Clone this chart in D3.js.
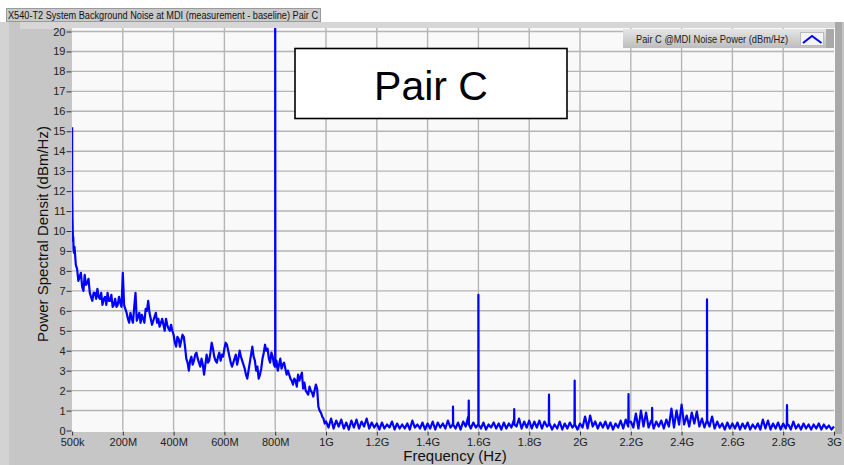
<!DOCTYPE html>
<html>
<head>
<meta charset="utf-8">
<title>Pair C noise</title>
<script src="https://cdn.jsdelivr.net/npm/d3@7/dist/d3.min.js"></script>
<style>
	body { margin: 0; background: #fff; }
	svg { display: block; font-family: "Liberation Sans", Arial, sans-serif; }
</style>
</head>
<body>
<svg id="chart" width="844" height="465"></svg>
<script>

	var chartTitle = "X540-T2 System Background Noise at MDI (measurement - baseline) Pair C";
	var legendLabel = "Pair C @MDI Noise Power (dBm/Hz)";
	var boxLabel = "Pair C";

	// x ticks (MHz) and their labels
	var xTickMHz = [0.5, 200, 400, 600, 800, 1000, 1200, 1400, 1600, 1800, 2000, 2200, 2400, 2600, 2800, 3000];
	var xTickText = ["500k", "200M", "400M", "600M", "800M", "1G", "1.2G", "1.4G", "1.6G", "1.8G", "2G", "2.2G", "2.4G", "2.6G", "2.8G", "3G"];
	var yTicks = [0, 1, 2, 3, 4, 5, 6, 7, 8, 9, 10, 11, 12, 13, 14, 15, 16, 17, 18, 19, 20];

	// first few MHz, the steep drop at the left edge
	var headMHz = [0.5, 0.6, 1.2, 2, 3, 4, 5, 6, 8];
	var headDb = [15.2, 12.0, 11.6, 10.6, 10.0, 9.5, 9.7, 9.1, 8.9];

	// trace read every 10 MHz, from 10M to 3G
	var noiseDb = [
		9.2, 8.1, 7.7, 7.2, 7.8, 7.4, 6.9, 6.5, 6.9,
		7.1, 6.6, 6.3, 6.7, 6.9, 6.5, 6.2, 6.6, 6.3, 6.4,
		7.9, 6.1, 5.6, 5.9, 5.4, 6.9, 5.7, 5.4, 5.6, 6.1,
		6.5, 5.6, 5.5, 5.9, 5.6, 5.4, 5.3, 5.6, 5.1, 5.3,
		4.8, 4.2, 4.6, 4.5, 4.7, 3.6, 3.0, 3.7, 3.5, 3.9,
		3.4, 3.6, 2.8, 3.8, 3.5, 4.4, 3.7, 3.4, 3.9, 3.8,
		4.1, 4.3, 3.7, 3.2, 3.6, 3.3, 4.0, 3.5, 3.1, 2.6,
		3.4, 4.2, 3.5, 3.2, 2.8, 3.6, 4.3, 4.1, 3.4, 3.7,
		3.2, 3.0, 3.6, 3.3, 3.1, 3.0, 2.6, 2.3, 2.5, 2.8,
		2.7, 2.1, 2.0, 1.8, 2.0, 1.7, 2.3, 1.2, 0.9, 0.6,
		0.45, 0.15, 0.6, 0.1, 0.5, 0.2, 0.55, 0.1, 0.4, 0.05,
		0.5, 0.15, 0.55, 0.1, 0.45, 0.2, 0.6, 0.1, 0.4, 0.15,
		0.35, 0.05, 0.4, 0.1, 0.3, 0.15, 0.45, 0.05, 0.35, 0.1,
		0.3, 0.1, 0.35, 0.05, 0.5, 0.15, 0.3, 0.1, 0.4, 0.05,
		0.35, 0.1, 0.45, 0.05, 0.4, 0.15, 0.35, 0.1, 0.5, 0.15,
		0.45, 0.1, 0.4, 0.05, 0.45, 0.2, 0.7, 0.1, 0.4, 0.15,
		0.35, 0.1, 0.4, 0.05, 0.3, 0.15, 0.4, 0.1, 0.35, 0.05,
		0.4, 0.1, 0.35, 0.15, 0.55, 0.2, 0.6, 0.1, 0.45, 0.15,
		0.5, 0.1, 0.45, 0.15, 0.5, 0.1, 0.45, 0.2, 0.35, 0.05,
		0.3, 0.1, 0.45, 0.05, 0.35, 0.1, 0.4, 0.15, 0.3, 0.05,
		0.35, 0.15, 0.7, 0.1, 0.75, 0.2, 0.45, 0.1, 0.4, 0.15,
		0.45, 0.1, 0.4, 0.05, 0.35, 0.15, 0.5, 0.1, 0.55, 0.2,
		0.45, 0.15, 0.85, 0.1, 1.0, 0.2, 0.9, 0.15, 0.5, 0.1,
		0.45, 0.2, 0.5, 0.1, 0.55, 0.2, 1.1, 0.15, 1.0, 0.3,
		1.3, 0.3, 0.75, 0.2, 0.9, 0.35, 0.95, 0.2, 0.6, 0.15,
		0.55, 0.2, 0.7, 0.1, 0.45, 0.15, 0.35, 0.05, 0.4, 0.1,
		0.35, 0.1, 0.4, 0.05, 0.35, 0.1, 0.4, 0.05, 0.3, 0.1,
		0.35, 0.05, 0.55, 0.1, 0.5, 0.05, 0.35, 0.1, 0.4, 0.05,
		0.35, 0.1, 0.3, 0.05, 0.45, 0.1, 0.3, 0.05, 0.35, 0.1,
		0.3, 0.05, 0.3, 0.1, 0.35, 0.05, 0.3, 0.1, 0.25, 0.05,
		0.2
	];

	// in-between samples (15M, 25M ... 995M) where the trace is a wide noisy band
	var midDb = [
		8.3, 7.5, 7.9, 7.0, 7.3, 7.6, 6.7, 6.9, 6.6,
		6.7, 6.9, 6.6, 6.3, 6.5, 6.8, 6.3, 6.2, 6.7, 6.2,
		6.3, 5.9, 5.4, 5.6, 6.2, 5.5, 5.9, 5.8, 5.4, 6.0,
		5.9, 5.3, 5.7, 5.4, 5.2, 5.6, 5.0, 5.3, 5.0, 5.0,
		4.4, 4.7, 4.2, 4.8, 4.2, 3.4, 3.5, 3.3, 3.8, 3.6,
		3.2, 3.3, 3.3, 3.4, 3.9, 4.1, 3.5, 3.7, 3.5, 3.7,
		4.4, 4.0, 3.4, 3.4, 3.8, 3.6, 3.7, 3.3, 2.8, 3.0,
		3.8, 3.7, 3.0, 2.6, 3.1, 3.9, 4.0, 3.6, 3.9, 3.3,
		3.5, 3.3, 3.1, 3.4, 2.8, 2.8, 2.5, 2.6, 2.2, 2.5,
		2.9, 2.4, 1.9, 2.2, 1.9, 2.0, 2.1, 1.0, 0.7, 0.35
	];

	// narrow spurs: frequency, peak, level either side
	var spikeMHz = [800, 1500, 1562, 1600, 1741, 1878, 1979, 2191, 2284, 2500, 2815];
	var spikeTop = [22, 1.2, 1.5, 6.8, 1.07, 1.8, 2.5, 1.83, 1.13, 6.57, 1.27];
	var spikeBase = [3.2, 0.3, 0.3, 0.3, 0.3, 0.3, 0.3, 0.4, 0.4, 0.5, 0.3];

	function buildSeries() {
		var pts = [];
		headMHz.forEach(function(f, i) { pts.push([f, headDb[i]]); });
		noiseDb.forEach(function(v, i) { pts.push([(i + 1) * 10, v]); });
		midDb.forEach(function(v, i) { pts.push([15 + i * 10, v]); });
		spikeMHz.forEach(function(f, i) {
			pts.push([f - 0.8, spikeBase[i]]);
			pts.push([f, spikeTop[i]]);
			pts.push([f + 0.8, spikeBase[i]]);
		});
		pts.sort(function(a, b) { return a[0] - b[0]; });
		return pts;
	}

	function draw() {
		var svg = d3.select("#chart");
		var left = 72, right = 834, top = 31.5, bottom = 430.5;

		var x = d3.scaleLinear().domain([0, 3000]).range([left, right]);
		var y = d3.scaleLinear().domain([0, 20]).range([bottom, top]);

		// title strip
		svg.append("rect").attr("x", 6.5).attr("y", 8.5).attr("width", 314).attr("height", 13)
			.attr("fill", "#c9c9c9").attr("stroke", "#9a9a9a");
		svg.append("text").attr("x", 8).attr("y", 18.5)
			.attr("font-size", 10).attr("fill", "#111")
			.attr("textLength", 310).attr("lengthAdjust", "spacingAndGlyphs")
			.text(chartTitle);

		// panel
		svg.append("rect").attr("x", 0).attr("y", 22).attr("width", 844).attr("height", 443).attr("fill", "#c6c6c6");
		svg.append("rect").attr("x", 0).attr("y", 22).attr("width", 9).attr("height", 443).attr("fill", "#d3d3d3");
		svg.append("rect").attr("x", 20).attr("y", 22).attr("width", 822).attr("height", 7).attr("fill", "#d6d6d6");
		svg.append("rect").attr("x", 835).attr("y", 22).attr("width", 7).attr("height", 412).attr("fill", "#a9a9a9");

		// plot area
		svg.append("rect").attr("x", left).attr("y", 28).attr("width", right - left + 1).attr("height", bottom - 28 + 1.5)
			.attr("fill", "#f9f9f9");

		var g = svg.append("g");

		// grid
		g.selectAll(".hgrid").data(yTicks.slice(1)).enter().append("line")
			.attr("x1", left).attr("x2", right)
			.attr("y1", function(d) { return y(d); }).attr("y2", function(d) { return y(d); })
			.attr("stroke", "#b5b5b5").attr("stroke-width", 1.4);
		g.selectAll(".vgrid").data(xTickMHz.slice(1, -1)).enter().append("line")
			.attr("x1", function(d) { return x(d); }).attr("x2", function(d) { return x(d); })
			.attr("y1", 28).attr("y2", bottom)
			.attr("stroke", "#b5b5b5").attr("stroke-width", 1.4);

		// y axis
		var yAxis = d3.axisLeft(y).tickValues(yTicks).tickSize(5).tickPadding(1);
		var ya = svg.append("g").attr("transform", "translate(" + (left - 0.5) + ",0)").call(yAxis);
		ya.select(".domain").remove();
		ya.selectAll("line").attr("stroke", "#333");
		ya.selectAll("text").attr("font-size", 11).attr("fill", "#222").attr("font-family", "Liberation Sans, Arial, sans-serif");

		// x axis
		var xAxis = d3.axisBottom(x).tickValues(xTickMHz)
			.tickFormat(function(d, i) { return xTickText[i]; })
			.tickSize(4).tickPadding(3);
		var xa = svg.append("g").attr("transform", "translate(0," + (bottom + 1) + ")").call(xAxis);
		xa.select(".domain").remove();
		xa.selectAll("line").attr("stroke", "#333");
		xa.selectAll("text").attr("font-size", 11).attr("fill", "#222").attr("font-family", "Liberation Sans, Arial, sans-serif");

		// trace
		svg.append("clipPath").attr("id", "clip").append("rect")
			.attr("x", left).attr("y", 28).attr("width", right - left + 1).attr("height", bottom - 28 + 1);
		var line = d3.line()
			.x(function(d) { return x(d[0]); })
			.y(function(d) { return y(d[1]); });
		svg.append("path")
			.datum(buildSeries())
			.attr("clip-path", "url(#clip)")
			.attr("fill", "none")
			.attr("stroke", "#0000ff")
			.attr("stroke-width", 2.2)
			.attr("stroke-linejoin", "round")
			.attr("d", line);

		// axis titles
		svg.append("text")
			.attr("transform", "translate(48,234) rotate(-90)")
			.attr("text-anchor", "middle")
			.attr("font-size", 15).attr("fill", "#111")
			.text("Power Spectral Densit (dBm/Hz)");
		svg.append("text")
			.attr("x", 455).attr("y", 461)
			.attr("text-anchor", "middle")
			.attr("font-size", 15).attr("fill", "#111")
			.text("Frequency (Hz)");

		// legend
		var grad = svg.append("defs").append("linearGradient").attr("id", "lg")
			.attr("x1", 0).attr("y1", 0).attr("x2", 0).attr("y2", 1);
		grad.append("stop").attr("offset", "0%").attr("stop-color", "#e6e6e6");
		grad.append("stop").attr("offset", "100%").attr("stop-color", "#bdbdbd");
		svg.append("rect").attr("x", 623).attr("y", 29).attr("width", 211).attr("height", 19)
			.attr("fill", "url(#lg)");
		svg.append("rect").attr("x", 826).attr("y", 29).attr("width", 8).attr("height", 19).attr("fill", "#a9a9a9");
		svg.append("text").attr("x", 636).attr("y", 42.5)
			.attr("font-size", 10.5).attr("fill", "#222")
			.attr("textLength", 152).attr("lengthAdjust", "spacingAndGlyphs")
			.text(legendLabel);
		svg.append("rect").attr("x", 800.5).attr("y", 32.5).attr("width", 23).attr("height", 13)
			.attr("fill", "#f4f4f4").attr("stroke", "#bbb");
		svg.append("polyline").attr("points", "803,43 812,36 821.5,43")
			.attr("fill", "none").attr("stroke", "#0000ff").attr("stroke-width", 2);

		// annotation box
		svg.append("rect").attr("x", 295).attr("y", 48.5).attr("width", 272).attr("height", 70)
			.attr("fill", "#fff").attr("stroke", "#000").attr("stroke-width", 1.6);
		svg.append("text").attr("x", 431).attr("y", 100)
			.attr("text-anchor", "middle")
			.attr("font-size", 41).attr("fill", "#000")
			.text(boxLabel);
	}

	draw();

</script>
</body>
</html>
